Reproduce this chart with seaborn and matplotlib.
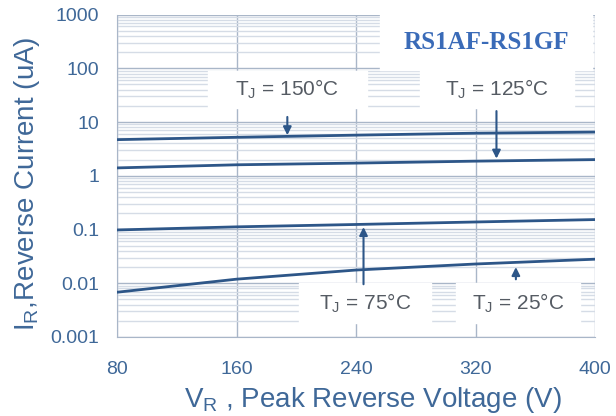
import numpy as np
import pandas as pd
import matplotlib.pyplot as plt
import seaborn as sns

# values
voltage = [80, 160, 240, 320, 400]
ir_150 = [4.7, 5.2, 5.7, 6.2, 6.5]
ir_125 = [1.4, 1.6, 1.72, 1.87, 2.0]
ir_75 = [0.098, 0.112, 0.124, 0.138, 0.153]
ir_25 = [0.0068, 0.0119, 0.0176, 0.0228, 0.028]

y_ticks = [0.001, 0.01, 0.1, 1, 10, 100, 1000]
y_labels = ['0.001', '0.01', '0.1', '1', '10', '100', '1000']
x_ticks = [80, 160, 240, 320, 400]

df = pd.DataFrame({
    'V': voltage * 4,
    'IR': ir_150 + ir_125 + ir_75 + ir_25,
    'Tj': ['150'] * 5 + ['125'] * 5 + ['75'] * 5 + ['25'] * 5,
})

sns.set_style('white')
plt.rcParams['font.family'] = ['Liberation Sans', 'DejaVu Sans']

blue_txt = '#3f6898'
line_col = '#2d5688'

fig = plt.figure(figsize=(6.16, 4.16), dpi=100)
ax = fig.add_axes([0.19, 0.19, 0.776, 0.775])

ax.set_yscale('log')
ax.set_xlim(80, 400)
ax.set_ylim(0.001, 1000)

# grid: light minor lines, darker majors
ax.yaxis.set_minor_locator(plt.matplotlib.ticker.LogLocator(base=10, subs=np.arange(2, 10)))
ax.grid(which='minor', axis='y', color='#d5dce6', lw=1.0)
ax.grid(which='major', axis='y', color='#a9b6c8', lw=1.0)
ax.grid(which='major', axis='x', color='#a9b6c8', lw=1.0)
ax.set_axisbelow(True)

sns.lineplot(data=df, x='V', y='IR', units='Tj', estimator=None,
             color=line_col, lw=2.0, ax=ax, legend=False, zorder=3)

ax.set_xticks(x_ticks)
ax.set_xticklabels([str(v) for v in x_ticks])
ax.set_yticks(y_ticks)
ax.set_yticklabels(y_labels)
ax.tick_params(axis='both', which='major', labelsize=14, labelcolor=blue_txt,
               color='#a9b6c8', length=9, width=1, pad=4)
ax.tick_params(axis='y', which='minor', length=0)
ax.tick_params(axis='x', pad=8)
for s in ['top', 'right']:
    ax.spines[s].set_visible(False)
for s in ['left', 'bottom']:
    ax.spines[s].set_color('#a9b6c8')

ax.set_xlabel('V$_\\mathregular{R}$ , Peak Reverse Voltage (V)', fontsize=20, color=blue_txt)
ax.set_ylabel('I$_\\mathregular{R}$,Reverse Current (uA)', fontsize=20, color=blue_txt)
ax.xaxis.set_label_coords(0.535, -0.148)
ax.yaxis.set_label_coords(-0.158, 0.475)

# white label boxes
def box(x0, x1, y0, y1, txt, **kw):
    ax.fill_between([x0, x1], y0, y1, color='white', zorder=2)
    ax.text((x0 + x1) / 2, np.sqrt(y0 * y1), txt, ha='center', va='center',
            zorder=4, **kw)

box(141, 247, 18, 90, 'T$_\\mathregular{J}$ = 150°C', fontsize=15, color='#555b63')
box(283, 386, 18, 90, 'T$_\\mathregular{J}$ = 125°C', fontsize=15, color='#555b63')
box(256, 398, 91, 1000, 'RS1AF-RS1GF', fontsize=18, color='#3a6bb8',
    family=['Liberation Serif', 'DejaVu Serif'], fontweight='bold')
box(202, 290, 0.0018, 0.0100, 'T$_\\mathregular{J}$ = 75°C', fontsize=15, color='#555b63')
box(307, 390, 0.0018, 0.0100, 'T$_\\mathregular{J}$ = 25°C', fontsize=15, color='#555b63')

arrow = dict(arrowstyle='-|>', color=line_col, lw=1.5, mutation_scale=12)
ax.annotate('', xy=(194, 5.05), xytext=(194, 14), arrowprops=arrow, zorder=5)
ax.annotate('', xy=(334, 1.85), xytext=(334, 18), arrowprops=arrow, zorder=5)
ax.annotate('', xy=(245, 0.125), xytext=(245, 0.0085), arrowprops=arrow, zorder=5)
ax.annotate('', xy=(347, 0.0225), xytext=(347, 0.0105), arrowprops=arrow, zorder=5)

fig.savefig('out.png', dpi=100, facecolor='white')
